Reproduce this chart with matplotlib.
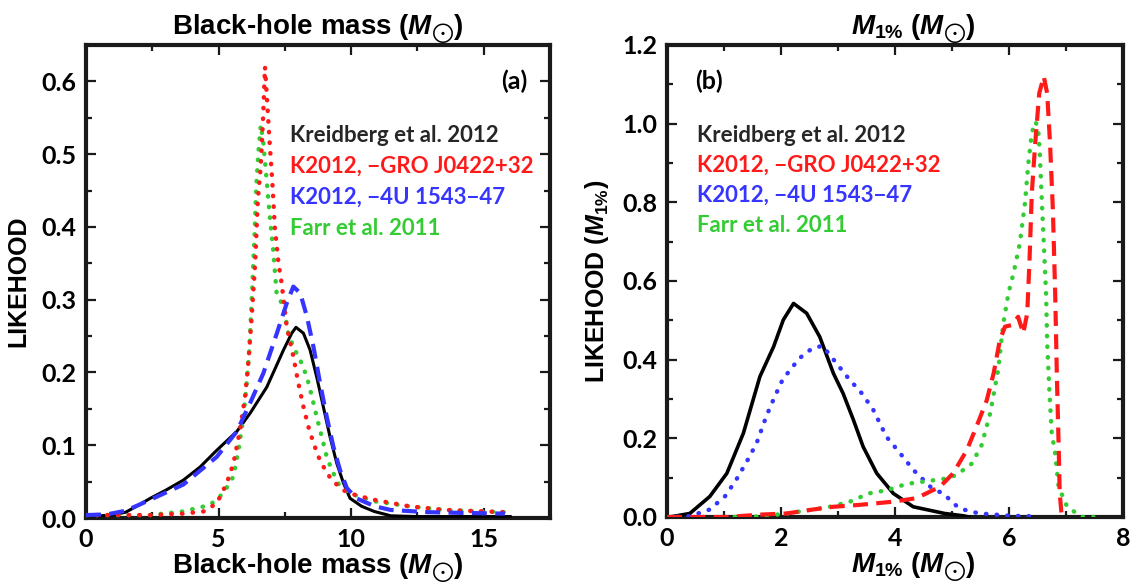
import matplotlib
matplotlib.use("Agg")
import matplotlib.pyplot as plt
from matplotlib.ticker import MultipleLocator

# ── Panel (a): black-hole mass distributions ─────────────────────────────────
k12_x = [0.0, 0.5, 1.0, 1.5, 2.0, 2.42, 3.0, 3.67, 4.3, 4.93, 5.69, 6.19, 6.82,
         7.45, 7.76, 7.92, 8.2, 8.45, 8.7, 8.95, 9.2, 9.46, 9.71, 9.96, 10.4,
         10.87, 11.5, 12.5, 14.0, 16.0]
k12_y = [0.003, 0.003, 0.004, 0.008, 0.018, 0.027, 0.038, 0.052, 0.07, 0.093,
         0.119, 0.144, 0.18, 0.231, 0.254, 0.262, 0.254, 0.231, 0.194, 0.153,
         0.112, 0.075, 0.048, 0.027, 0.016, 0.009, 0.003, 0.002, 0.002, 0.002]

gro_x = [0.0, 1.0, 2.42, 3.67, 4.43, 4.93, 5.31, 5.56, 5.81, 6.0, 6.13, 6.25,
         6.38, 6.48, 6.59, 6.68, 6.75, 6.83, 6.92, 7.03, 7.12, 7.26, 7.38, 7.57,
         7.82, 8.01, 8.2, 8.39, 8.58, 8.77, 9.02, 9.27, 9.71, 10.2, 10.87, 12.2,
         13.55, 15.8]
gro_y = [0.004, 0.004, 0.004, 0.006, 0.009, 0.02, 0.048, 0.075, 0.121, 0.167,
         0.217, 0.277, 0.35, 0.437, 0.483, 0.551, 0.62, 0.574, 0.519, 0.46, 0.40,
         0.35, 0.322, 0.263, 0.222, 0.185, 0.153, 0.125, 0.103, 0.084, 0.066,
         0.052, 0.038, 0.031, 0.025, 0.016, 0.011, 0.008]

u1543_x = [0.0, 0.8, 1.5, 2.42, 3.67, 4.93, 5.69, 6.19, 6.69, 7.2, 7.57, 7.82,
           8.08, 8.33, 8.58, 8.83, 9.08, 9.33, 9.58, 9.84, 10.2, 10.9, 11.5,
           12.9, 14.2, 15.8]
u1543_y = [0.004, 0.005, 0.01, 0.025, 0.046, 0.084, 0.119, 0.158, 0.199, 0.254,
           0.295, 0.318, 0.309, 0.277, 0.235, 0.185, 0.139, 0.098, 0.066, 0.041,
           0.027, 0.016, 0.011, 0.008, 0.007, 0.006]

farr_x = [0.0, 1.0, 2.42, 3.67, 4.68, 5.18, 5.56, 5.75, 5.94, 6.06, 6.16, 6.25,
          6.36, 6.42, 6.51, 6.59, 6.68, 6.79, 6.92, 7.06, 7.19, 7.45, 7.63,
          7.82, 8.08, 8.33, 8.52, 8.7, 8.89, 9.08, 9.27, 9.58, 9.93, 10.87, 12.2,
          13.55, 15.8]
farr_y = [0.004, 0.004, 0.004, 0.009, 0.018, 0.034, 0.057, 0.093, 0.139, 0.185,
          0.231, 0.3, 0.391, 0.455, 0.506, 0.54, 0.519, 0.474, 0.419, 0.368,
          0.309, 0.29, 0.254, 0.235, 0.217, 0.194, 0.167, 0.139, 0.112, 0.084,
          0.066, 0.043, 0.034, 0.023, 0.016, 0.011, 0.008]

# ── Panel (b): M_1% distributions ────────────────────────────────────────────
m1_k12_x = [0.0, 0.05, 0.4, 0.75, 1.05, 1.34, 1.63, 1.87, 2.04, 2.22, 2.45,
            2.68, 2.92, 3.09, 3.27, 3.44, 3.68, 3.97, 4.32, 4.87, 5.2, 5.3]
m1_k12_y = [0.0, 0.0, 0.009, 0.052, 0.111, 0.213, 0.357, 0.433, 0.501, 0.543,
            0.518, 0.458, 0.365, 0.314, 0.247, 0.179, 0.111, 0.06, 0.026, 0.009,
            0.003, 0.0]

m1_gro_x = [0.0, 1.05, 1.63, 2.1, 2.51, 2.92, 3.39, 3.97, 4.38, 4.79, 5.02,
            5.26, 5.43, 5.61, 5.73, 5.84, 5.93, 6.05, 6.16, 6.25, 6.32, 6.36,
            6.4, 6.46, 6.53, 6.61, 6.67, 6.72, 6.77, 6.81, 6.84, 6.87, 6.89,
            6.92]
m1_gro_y = [0.0, 0.0, 0.006, 0.009, 0.018, 0.026, 0.031, 0.039, 0.048, 0.077,
            0.111, 0.17, 0.23, 0.297, 0.365, 0.45, 0.484, 0.488, 0.509, 0.467,
            0.518, 0.653, 0.823, 0.95, 1.077, 1.12, 1.077, 0.95, 0.78, 0.569,
            0.357, 0.187, 0.06, 0.01]

m1_u1543_x = [0.0, 0.4, 0.75, 1.02, 1.22, 1.4, 1.57, 1.75, 1.89, 2.04, 2.19,
              2.28, 2.42, 2.57, 2.73, 2.95, 3.18, 3.42, 3.62, 3.85, 4.09, 4.32,
              4.62, 4.88, 5.01, 5.14, 5.32, 5.49, 5.67, 5.85, 6.02, 6.37]
m1_u1543_y = [0.0, 0.002, 0.019, 0.053, 0.096, 0.141, 0.187, 0.259, 0.306,
              0.353, 0.378, 0.397, 0.416, 0.43, 0.435, 0.395, 0.353, 0.314,
              0.272, 0.204, 0.162, 0.12, 0.077, 0.056, 0.036, 0.022, 0.014,
              0.009, 0.007, 0.005, 0.003, 0.002]

m1_farr_x = [1.0, 1.46, 1.81, 2.16, 2.51, 2.86, 3.21, 3.54, 3.85, 4.2, 4.5,
             4.91, 5.08, 5.35, 5.52, 5.67, 5.81, 5.9, 5.99, 6.08, 6.19, 6.28,
             6.34, 6.4, 6.46, 6.51, 6.54, 6.57, 6.61, 6.65, 6.67, 6.71, 6.75,
             6.81, 6.87, 7.02, 7.28, 7.48]
m1_farr_y = [0.0, 0.0, 0.004, 0.01, 0.018, 0.026, 0.039, 0.06, 0.068, 0.084,
             0.09, 0.098, 0.107, 0.136, 0.183, 0.264, 0.374, 0.492, 0.569, 0.62,
             0.696, 0.798, 0.9, 0.976, 1.005, 0.992, 0.925, 0.823, 0.696, 0.569,
             0.442, 0.315, 0.213, 0.162, 0.077, 0.026, 0.0, 0.0]

labels = ["Kreidberg et al. 2012", "K2012, \u2212GRO J0422+32",
          "K2012, \u22124U 1543\u221247", "Farr et al. 2011"]
colors = ["#262626", "#FF1A1A", "#3535FF", "#33CC33"]

plt.rcParams["mathtext.fontset"] = "custom"
plt.rcParams["mathtext.it"] = "Liberation Sans:italic:bold"
plt.rcParams["mathtext.rm"] = "Liberation Sans:bold"
plt.rcParams["mathtext.bf"] = "Liberation Sans:bold"
plt.rcParams["mathtext.fallback"] = "stixsans"

MSUN = r"$M_{\bigodot}$"
M1 = r"$M_{\mathrm{1\%}}$"

DOT = dict(linestyle=(0, (0.1, 2.3)), dash_capstyle="round", lw=3.2)
DASH = dict(linestyle=(0, (3.6, 2.0)), lw=3.0)
TICKF = dict(family="Lato", weight="bold", size=18)
XLABF = dict(family="Liberation Sans", weight="bold", size=20)
YLABF = dict(family="Liberation Sans", weight="bold", size=18)


def style_axes(ax):
    for sp in ax.spines.values():
        sp.set_linewidth(3.0)
        sp.set_color("#1a1a1a")
    ax.tick_params(which="both", direction="in", top=True, right=True,
                   width=1.6, color="#1a1a1a")
    ax.tick_params(which="major", length=7, pad=7)
    ax.tick_params(which="minor", length=4)
    for lab in ax.get_xticklabels() + ax.get_yticklabels():
        lab.set_fontfamily(TICKF["family"])
        lab.set_fontweight(TICKF["weight"])
        lab.set_fontsize(TICKF["size"])


fig = plt.figure(figsize=(11.37, 5.87), dpi=100)
ax1 = fig.add_axes([86 / 1137, 69 / 587, 464 / 1137, 473 / 587])
ax2 = fig.add_axes([667 / 1137, 70 / 587, 456 / 1137, 472 / 587])

# ── A ──
ax1.plot(k12_x, k12_y, color="black", lw=2.2, zorder=3)
ax1.plot(farr_x, farr_y, color=colors[3], **DOT, zorder=4)
ax1.plot(gro_x, gro_y, color=colors[1], **DOT, zorder=5)
ax1.plot(u1543_x, u1543_y, color=colors[2], **DASH, zorder=6)
ax1.xaxis.set_major_locator(MultipleLocator(5))
ax1.xaxis.set_minor_locator(MultipleLocator(2.5))
ax1.yaxis.set_minor_locator(MultipleLocator(0.05))
ax1.set_yticks([0, 0.1, 0.2, 0.3, 0.4, 0.5, 0.6])
ax1.set_yticklabels(["0.0", "0.1", "0.2", "0.3", "0.4", "0.5", "0.6"])
ax1.set_xlim(0, 17.5)
ax1.set_ylim(0, 0.65)
ax1.set_xlabel("Black-hole mass (" + MSUN + ")", labelpad=0, **XLABF)
ax1.set_title("Black-hole mass (" + MSUN + ")", pad=7, **XLABF)
ax1.set_ylabel("LIKEHOOD", labelpad=8, **YLABF)
style_axes(ax1)
ax1.text(0.923, 0.924, "(a)", transform=ax1.transAxes, ha="center",
         va="center", family="Lato", weight="bold", size=18)
for i, (lab, col) in enumerate(zip(labels, colors)):
    ax1.text(0.44, 0.808 - i * 0.065, lab, transform=ax1.transAxes,
             color=col, ha="left", va="center", family="Lato",
             weight="bold", size=16)

# ── B ──
ax2.plot(m1_k12_x, m1_k12_y, color="black", lw=2.6, zorder=3)
ax2.plot(m1_u1543_x, m1_u1543_y, color=colors[2], **DOT, zorder=4)
ax2.plot(m1_farr_x, m1_farr_y, color=colors[3], **DOT, zorder=5)
ax2.plot(m1_gro_x, m1_gro_y, color=colors[1], **DASH, zorder=6)
ax2.xaxis.set_major_locator(MultipleLocator(2))
ax2.xaxis.set_minor_locator(MultipleLocator(1))
ax2.yaxis.set_minor_locator(MultipleLocator(0.1))
ax2.set_yticks([0, 0.2, 0.4, 0.6, 0.8, 1.0, 1.2])
ax2.set_yticklabels(["0.0", "0.2", "0.4", "0.6", "0.8", "1.0", "1.2"])
ax2.set_xlim(0, 8)
ax2.set_ylim(0, 1.2)
ax2.set_xlabel(M1 + " (" + MSUN + ")", labelpad=0, x=0.54, **XLABF)
ax2.set_title(M1 + " (" + MSUN + ")", pad=7, x=0.54, **XLABF)
ax2.set_ylabel("LIKEHOOD (" + M1 + ")", labelpad=8, **YLABF)
style_axes(ax2)
ax2.text(0.092, 0.924, "(b)", transform=ax2.transAxes, ha="center",
         va="center", family="Lato", weight="bold", size=18)
for i, (lab, col) in enumerate(zip(labels, colors)):
    ax2.text(0.066, 0.809 - i * 0.064, lab, transform=ax2.transAxes,
             color=col, ha="left", va="center", family="Lato",
             weight="bold", size=16)

fig.savefig("out.png", dpi=100)
